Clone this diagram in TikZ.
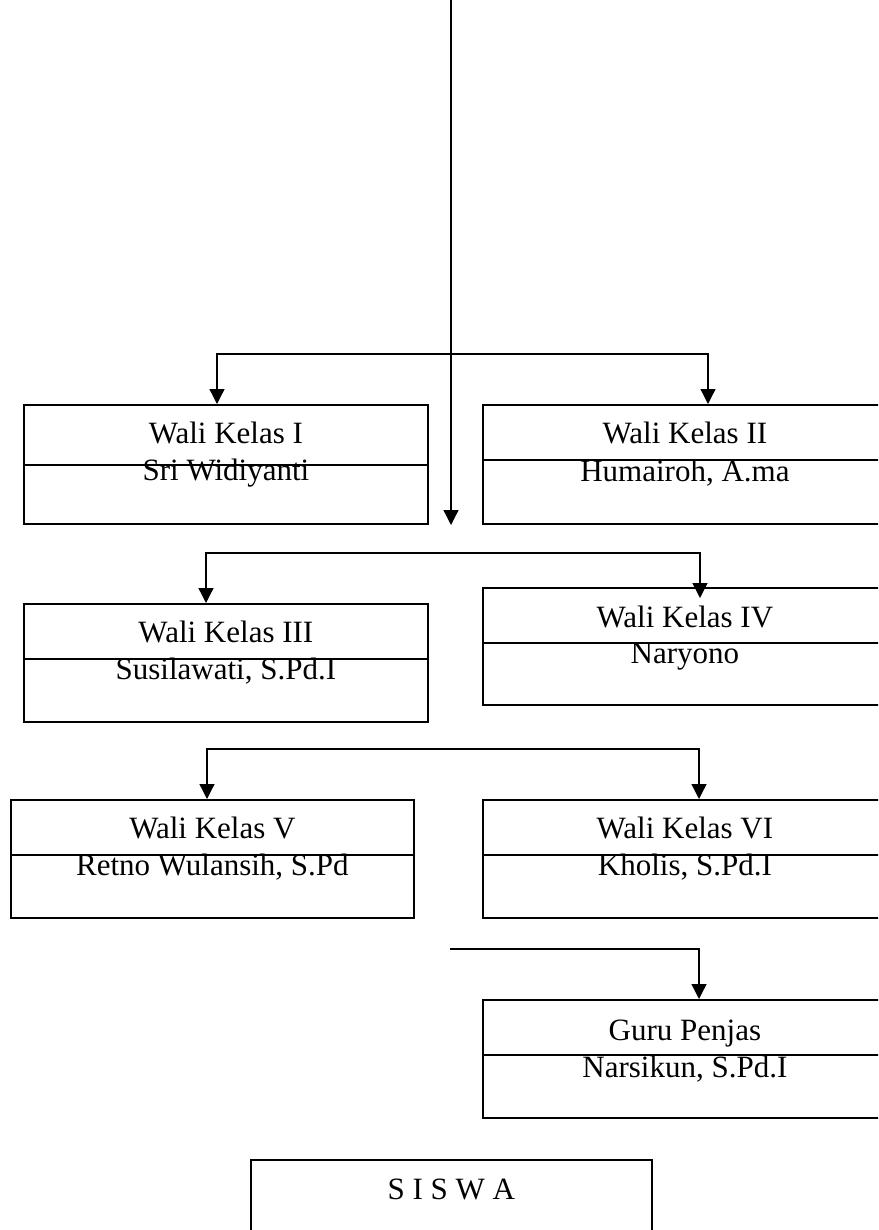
\documentclass[tikz,border=0pt]{standalone}
\usepackage{fontspec}
\setmainfont{Liberation Serif}
\usetikzlibrary{arrows.meta}
\begin{document}
\begin{tikzpicture}[x=1pt,y=-1pt,
  box/.style={draw,line width=1.8pt,rectangle,minimum width=404pt,anchor=north west,inner sep=0pt},
  tipped/.style={line width=1.3pt,{Triangle[length=15pt,width=15pt]}-{Triangle[length=15pt,width=15pt]}},
  arr/.style={line width=1.3pt,-{Triangle[length=15pt,width=15pt]}},
  lbl/.style={anchor=base,inner sep=0pt,font=\fontsize{31}{37}\selectfont},
  divider/.style={line width=1.5pt}]
\clip (0,0) rectangle (878,1230);
% boxes
\node[box,minimum height=119pt] (b1) at (23,404) {};
\node[box,minimum height=119pt] (b2) at (482,404) {};
\node[box,minimum height=118pt] (b3) at (23,603) {};
\node[box,minimum height=117pt] (b4) at (482,587) {};
\node[box,minimum height=118pt,minimum width=403pt] (b5) at (10,799) {};
\node[box,minimum height=118pt] (b6) at (482,799) {};
\node[box,minimum height=118pt] (b7) at (482,999) {};
\node[box,minimum height=120pt,minimum width=401pt] (b8) at (250,1159) {};
% dividers
\draw[divider] ([yshift=-61pt]b1.north west) -- ([yshift=-61pt]b1.north east);
\foreach \b in {b2,b3,b4,b5,b6,b7}{
  \draw[divider] ([yshift=-56pt]\b.north west) -- ([yshift=-56pt]\b.north east);
}
% labels
\node[lbl,yshift=-39.5pt] (b1a) at (b1.north) {Wali Kelas I};
\node[lbl,yshift=-76pt] (b1b) at (b1.north) {Sri Widiyanti};
\node[lbl,yshift=-39.5pt] (b2a) at (b2.north) {Wali Kelas II};
\node[lbl,yshift=-77pt] (b2b) at (b2.north) {Humairoh, A.ma};
\node[lbl,yshift=-39.5pt] (b3a) at (b3.north) {Wali Kelas III};
\node[lbl,yshift=-76pt] (b3b) at (b3.north) {Susilawati, S.Pd.I};
\node[lbl,yshift=-40pt] (b4a) at (b4.north) {Wali Kelas IV};
\node[lbl,yshift=-76pt] (b4b) at (b4.north) {Naryono};
\node[lbl,yshift=-39.5pt] (b5a) at (b5.north) {Wali Kelas V};
\node[lbl,yshift=-76pt] (b5b) at (b5.north) {Retno Wulansih, S.Pd};
\node[lbl,yshift=-39.5pt] (b6a) at (b6.north) {Wali Kelas VI};
\node[lbl,yshift=-76pt] (b6b) at (b6.north) {Kholis, S.Pd.I};
\node[lbl,yshift=-41pt] (b7a) at (b7.north) {Guru Penjas};
\node[lbl,yshift=-78pt] (b7b) at (b7.north) {Narsikun, S.Pd.I};
\node[lbl,yshift=-40pt] (b8a) at (b8.north) {S I S W A};
% connectors
\coordinate (top) at (451,0);
\coordinate (mid) at (451,525);
\coordinate (r1a) at (217,354);
\coordinate (r1b) at (708,354);
\coordinate (r2a) at (206,553);
\coordinate (r2b) at (700,553);
\coordinate (r3a) at (207,749);
\coordinate (r3b) at (699,749);
\coordinate (r4a) at (450,949);
\coordinate (r4b) at (699,949);
\draw[arr] (top) -- (mid);
\draw[tipped] (r1a |- b1.north) -- (r1a) -- (r1b) -- (r1b |- b2.north);
\draw[tipped] (r2a |- b3.north) -- (r2a) -- (r2b) -- ([yshift=-11pt]r2b |- b4.north);
\draw[tipped] (r3a |- b5.north) -- (r3a) -- (r3b) -- (r3b |- b6.north);
\draw[arr] (r4a) -- (r4b) -- (r4b |- b7.north);
\end{tikzpicture}
\end{document}
